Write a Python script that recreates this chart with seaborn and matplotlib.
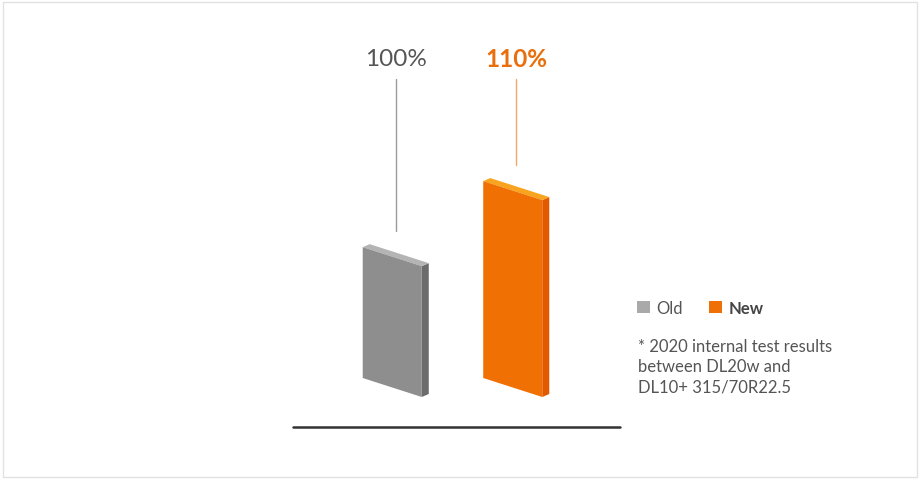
import matplotlib
matplotlib.use("Agg")
import matplotlib.pyplot as plt
import matplotlib.patches as mpatches
from matplotlib.transforms import IdentityTransform
import seaborn as sns
import pandas as pd

# data
categories = ["Old", "New"]
values = [100, 110]
labels = ["100%", "110%"]
front_colors = ["#8e8e8e", "#f07004"]
top_colors = ["#b4b4b4", "#f9a41e"]
side_colors = ["#6c6c6c", "#e25a00"]
label_colors = ["#555555", "#ea6f0c"]
line_colors = ["#9a9a9a", "#f2a66a"]
footnote = "* 2020 internal test results\nbetween DL20w and\nDL10+ 315/70R22.5"

sns.set_style("white")
plt.rcParams["font.family"] = ["Lato", "DejaVu Sans"]

df = pd.DataFrame({"cat": categories, "val": values})

fig = plt.figure(figsize=(9.21, 4.81), dpi=100)
ax = fig.add_axes([332 / 921, 102 / 481, 241 / 921, 339 / 481])
sns.barplot(data=df, x="cat", y="val", hue="cat", palette=front_colors,
            width=0.49, legend=False, ax=ax)
ax.set_xlim(-0.5, 1.5)
ax.set_ylim(80.2, 131.5)
ax.axis("off")

skew = 19      # px drop of the face from left to right
dx, dy = 7, 3  # depth of the slab in px

for i, p in enumerate(ax.patches):
    p.set_visible(False)
    x0, x1 = p.get_x(), p.get_x() + p.get_width()
    ybot = max(p.get_y(), ax.get_ylim()[0])
    ytop = p.get_y() + p.get_height()
    (X0, Yb), (X1, Yt) = ax.transData.transform([(x0, ybot), (x1, ytop)])
    front = [(X0, Yt), (X1, Yt - skew), (X1, Yb - skew), (X0, Yb)]
    top = [(X0, Yt), (X0 + dx, Yt + dy), (X1 + dx, Yt - skew + dy), (X1, Yt - skew)]
    side = [(X1, Yt - skew), (X1 + dx, Yt - skew + dy), (X1 + dx, Yb - skew + dy), (X1, Yb - skew)]
    for verts, c in [(side, side_colors[i]), (top, top_colors[i]), (front, front_colors[i])]:
        ax.add_patch(mpatches.Polygon(verts, closed=True, facecolor=c, edgecolor="none",
                                      transform=IdentityTransform(), clip_on=False))

    # value label with leader line
    xc = i + 0.03
    ax.plot([xc, xc], [values[i] + 2.4, 125.4], color=line_colors[i], lw=1, clip_on=False)
    ax.text(xc, 128.6, labels[i], ha="center", va="center", fontsize=17.5,
            color=label_colors[i], fontweight="bold" if i == 1 else "normal")

# baseline
fig.add_artist(plt.Line2D([293 / 921, 620 / 921], [1 - 428 / 481] * 2,
                          color="#333333", lw=1.8))

# legend
handles = [mpatches.Patch(facecolor=c, edgecolor="none", label=l)
           for c, l in zip(["#a9a9a9", "#ee7007"], categories)]
leg = fig.legend(handles=handles, loc="center left", bbox_to_anchor=(637 / 921, 1 - 309 / 481),
                 ncol=2, frameon=False, fontsize=12, handlelength=0.75, handleheight=0.75,
                 handletextpad=0.4, columnspacing=1.6, borderpad=0, borderaxespad=0)
for t in leg.get_texts():
    t.set_color("#555555")
leg.get_texts()[1].set_fontweight("bold")
leg.get_texts()[1].set_color("#444444")

fig.text(638 / 921, 1 - 339 / 481, footnote, ha="left", va="top", fontsize=12,
         color="#555555", linespacing=1.32)

# light frame
fig.add_artist(mpatches.Rectangle((3 / 921, 3 / 481), 914 / 921, 475 / 481,
                                  transform=fig.transFigure, fill=False,
                                  edgecolor="#e2e2e2", lw=1))

fig.savefig("out.png", dpi=100)
